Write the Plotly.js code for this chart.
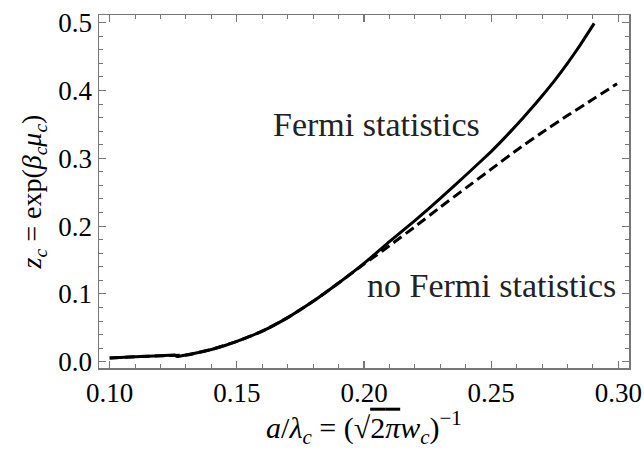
<!DOCTYPE html>
<html>
<head>
<meta charset="utf-8">
<script src="https://cdn.plot.ly/plotly-3.0.1.min.js"></script>
<style>html,body{margin:0;padding:0;background:#fff;}#chart{width:644px;height:449px;}</style>
</head>
<body>
<div id="chart"></div>
<script>
// Fermi statistics (solid)
var xFermi = [0.100,0.110,0.120,0.1255,0.1265,0.130,0.135,0.140,0.145,0.150,0.160,0.170,0.180,0.190,0.200,0.210,0.220,0.230,0.240,0.250,0.255,0.260,0.265,0.270,0.275,0.280,0.285,0.2905];
var yFermi = [0.0055,0.0072,0.0088,0.0098,0.0075,0.0098,0.0135,0.0180,0.0235,0.030,0.045,0.065,0.089,0.116,0.145,0.177,0.208,0.241,0.275,0.310,0.329,0.349,0.370,0.392,0.415,0.440,0.467,0.499];
// no Fermi statistics (dashed)
var xNoFermi = [0.100,0.110,0.120,0.130,0.140,0.150,0.160,0.170,0.180,0.190,0.200,0.210,0.220,0.230,0.240,0.250,0.260,0.270,0.280,0.290,0.2995];
var yNoFermi = [0.0055,0.0072,0.0088,0.0098,0.0180,0.030,0.045,0.065,0.089,0.116,0.144,0.171,0.199,0.228,0.256,0.284,0.312,0.338,0.363,0.387,0.410];

var labelFermi = "Fermi statistics";
var labelNoFermi = "no Fermi statistics";
var xTitle = "<i>a</i>/<i>λ</i><sub><i>c</i></sub> = (√<span style='text-decoration:overline'>2<i>π</i></span><i>w</i><sub><i>c</i></sub>)<sup>−1</sup>";
var yTitle = "<i>z</i><sub><i>c</i></sub> = exp(<i>β</i><sub><i>c</i></sub><i>μ</i><sub><i>c</i></sub>)";

var serif = "'Liberation Serif', 'DejaVu Serif', serif";
var axisCommon = {
  showgrid: false, zeroline: false,
  showline: true, linecolor: '#777', linewidth: 1.5,
  mirror: 'allticks', ticks: 'inside', ticklen: 7, tickwidth: 1.2, tickcolor: '#777',
  tickfont: {family: serif, size: 27, color: '#000'}
};

var traces = [
  {x: xNoFermi, y: yNoFermi, mode: 'lines', type: 'scatter',
   line: {color: '#000', width: 3, dash: '10px,5px', shape: 'spline', smoothing: 0.4}, hoverinfo: 'skip'},
  {x: xFermi, y: yFermi, mode: 'lines', type: 'scatter',
   line: {color: '#000', width: 3, shape: 'spline', smoothing: 0.4}, hoverinfo: 'skip'}
];

var layout = {
  width: 644, height: 449,
  margin: {l: 99, r: 15, t: 15, b: 81},
  paper_bgcolor: '#fff', plot_bgcolor: '#fff',
  showlegend: false,
  font: {family: serif, color: '#000'},
  xaxis: Object.assign({}, axisCommon, {
    range: [0.0958, 0.3042], tickvals: [0.10,0.15,0.20,0.25,0.30], tickformat: '.2f',
    minor: {dtick: 0.01, tick0: 0.10, ticks: 'inside', ticklen: 4, tickcolor: '#777', tickwidth: 1},
    title: {text: xTitle, font: {family: serif, size: 30, color: '#000'}, standoff: 6}
  }),
  yaxis: Object.assign({}, axisCommon, {
    range: [-0.0093, 0.5114], tickvals: [0.0,0.1,0.2,0.3,0.4,0.5], tickformat: '.1f',
    minor: {dtick: 0.02, tick0: 0, ticks: 'inside', ticklen: 4, tickcolor: '#777', tickwidth: 1},
    title: {text: yTitle, font: {family: serif, size: 28, color: '#000'}, standoff: 8}
  }),
  annotations: [
    {x: 0.2048, y: 0.3495, xref: 'x', yref: 'y', text: labelFermi, showarrow: false,
     xanchor: 'center', yanchor: 'middle', font: {family: serif, size: 34, color: '#222'}},
    {x: 0.250, y: 0.1124, xref: 'x', yref: 'y', text: labelNoFermi, showarrow: false,
     xanchor: 'center', yanchor: 'middle', font: {family: serif, size: 34, color: '#222'}}
  ]
};

Plotly.newPlot('chart', traces, layout, {staticPlot: true, displayModeBar: false});
</script>
</body>
</html>
